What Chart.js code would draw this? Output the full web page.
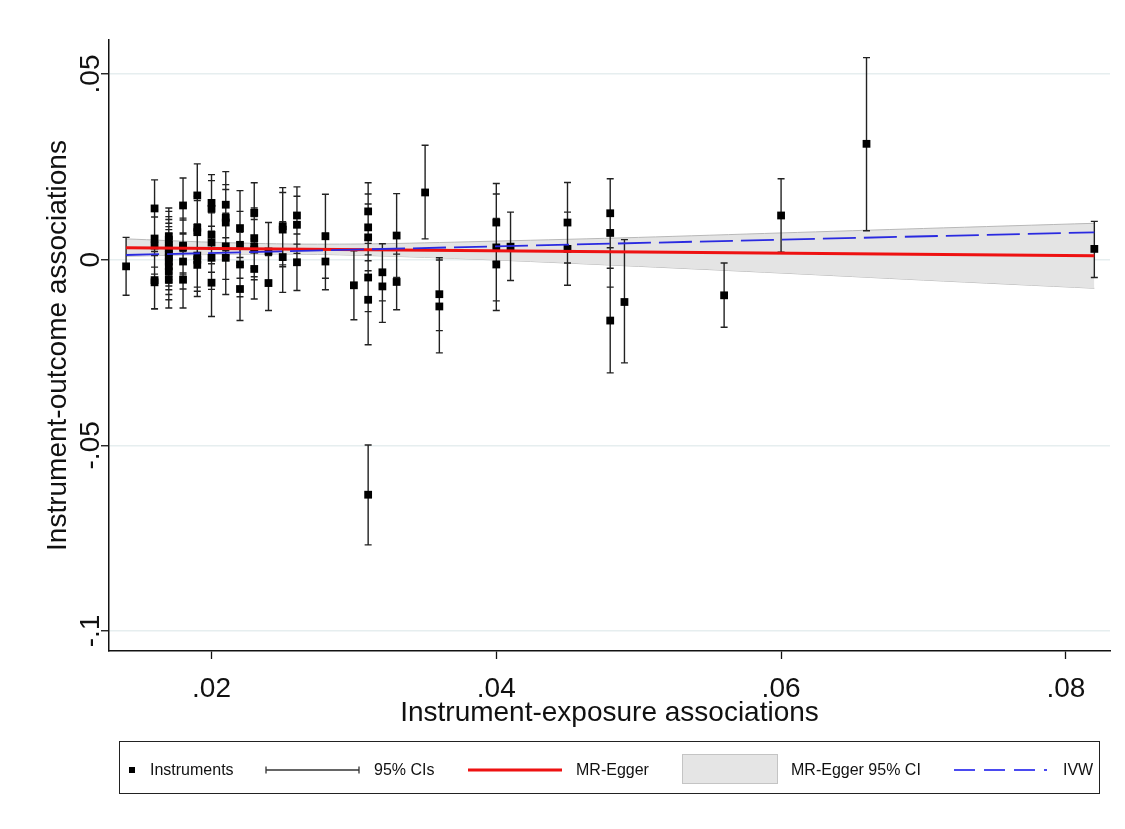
<!DOCTYPE html>
<html>
<head>
<meta charset="utf-8">
<script src="https://cdn.jsdelivr.net/npm/chart.js@4.4.1/dist/chart.umd.min.js"></script>
<style>
  html, body { margin: 0; padding: 0; background: #fff; }
  #wrap { position: relative; width: 1125px; height: 829px; }
  #legendBox { position: absolute; left: 119px; top: 741px; width: 981px; height: 53px; border: 1.5px solid #222; box-sizing: border-box; }
  .lg { position: absolute; top: 760px; height: 20px; line-height: 20px; font-family: "Liberation Sans", Arial, sans-serif; font-size: 16px; color: #111; white-space: nowrap; }
  #legendSvg { position: absolute; left: 0; top: 741px; }
</style>
</head>
<body>
<div id="wrap">
  <canvas id="mrChart" width="1125" height="829"></canvas>
  <div id="legendBox"></div>
  <svg id="legendSvg" width="1125" height="56">
    <rect x="129" y="26" width="6" height="6" fill="#000"></rect>
    <g stroke="#333" stroke-width="1.3">
      <line x1="266" y1="29" x2="359" y2="29"></line>
      <line x1="266" y1="25.5" x2="266" y2="32.5"></line>
      <line x1="359" y1="25.5" x2="359" y2="32.5"></line>
    </g>
    <line x1="468" y1="29" x2="562" y2="29" stroke="#ee1111" stroke-width="3"></line>
    <rect x="682.5" y="13.5" width="95" height="29" fill="#e5e5e5" stroke="#c4c4c4" stroke-width="1"></rect>
    <line x1="954" y1="29" x2="1047" y2="29" stroke="#4a4af0" stroke-width="2" stroke-dasharray="21 9"></line>
  </svg>
  <span class="lg" style="left:150px">Instruments</span>
  <span class="lg" style="left:374px">95% CIs</span>
  <span class="lg" style="left:576px">MR-Egger</span>
  <span class="lg" style="left:791px">MR-Egger 95% CI</span>
  <span class="lg" style="left:1063px">IVW</span>
</div>
<script>
const FONT = '"Liberation Sans", Arial, sans-serif';

// instrument associations
const instrX = [
  0.014,
  0.016, 0.016, 0.016, 0.016, 0.016,
  0.017, 0.017, 0.017, 0.017, 0.017, 0.017, 0.017, 0.017, 0.017, 0.017, 0.017,
  0.018, 0.018, 0.018, 0.018, 0.018,
  0.019, 0.019, 0.019, 0.019, 0.019, 0.019,
  0.020, 0.020, 0.020, 0.020, 0.020, 0.020,
  0.021, 0.021, 0.021, 0.021, 0.021,
  0.022, 0.022, 0.022, 0.022,
  0.023, 0.023, 0.023, 0.023, 0.023,
  0.024, 0.024,
  0.025, 0.025, 0.025,
  0.026, 0.026, 0.026,
  0.028, 0.028,
  0.030,
  0.031, 0.031, 0.031, 0.031, 0.031, 0.031,
  0.032, 0.032,
  0.033, 0.033,
  0.035,
  0.036, 0.036,
  0.040, 0.040, 0.040,
  0.041,
  0.045, 0.045,
  0.048, 0.048, 0.048,
  0.049,
  0.056,
  0.060,
  0.066,
  0.082
];
const instrY = [
  -0.0018,
  0.0138, 0.0057, 0.0038, -0.0055, -0.0061,
  0.0063, 0.0054, 0.0040, 0.0032, 0.0022, 0.0013, 0.0005, -0.0005, -0.0018, -0.0032, -0.0054,
  0.0146, 0.0038, 0.0033, -0.0005, -0.0054,
  0.0173, 0.0086, 0.0074, 0.0011, 0.0000, -0.0014,
  0.0153, 0.0137, 0.0067, 0.0046, 0.0005, -0.0062,
  0.0148, 0.0113, 0.0100, 0.0036, 0.0005,
  0.0085, 0.0040, -0.0013, -0.0079,
  0.0126, 0.0058, 0.0035, 0.0027, -0.0025,
  0.0022, -0.0063,
  0.0090, 0.0081, 0.0007,
  0.0119, 0.0094, -0.0007,
  0.0063, -0.0005,
  -0.0069,
  0.0130, 0.0087, 0.0060, -0.0048, -0.0108, -0.0633,
  -0.0034, -0.0072,
  0.0065, -0.0060,
  0.0181,
  -0.0093, -0.0126,
  0.0100, 0.0033, -0.0013,
  0.0035,
  0.0100, 0.0029,
  0.0125, 0.0072, -0.0164,
  -0.0114,
  -0.0096,
  0.0119,
  0.0312,
  0.0029
];
const ciLow = [
  -0.0096,
  0.0061, -0.0020, -0.0039, -0.0132, -0.0133,
  -0.0013, -0.0022, -0.0036, -0.0044, -0.0054, -0.0063, -0.0071, -0.0081, -0.0094, -0.0108, -0.0130,
  0.0072, -0.0036, -0.0041, -0.0079, -0.0130,
  0.0088, 0.0001, -0.0011, -0.0074, -0.0085, -0.0099,
  0.0077, 0.0061, -0.0011, -0.0034, -0.0080, -0.0153,
  0.0059, 0.0024, 0.0011, -0.0053, -0.0094,
  -0.0016, -0.0050, -0.0100, -0.0164,
  0.0045, -0.0023, -0.0046, -0.0054, -0.0106,
  -0.0056, -0.0137,
  -0.0014, -0.0019, -0.0088,
  0.0042, 0.0017, -0.0083,
  -0.0050, -0.0081,
  -0.0162,
  0.0053, -0.0003, -0.0030, -0.0140, -0.0229, -0.0768,
  -0.0111, -0.0169,
  -0.0048, -0.0135,
  0.0056,
  -0.0191, -0.0251,
  -0.0005, -0.0111, -0.0137,
  -0.0056,
  -0.0009, -0.0069,
  0.0032, -0.0074, -0.0305,
  -0.0278,
  -0.0182,
  0.0020,
  0.0078,
  -0.0048
];
const ciHigh = [
  0.0060,
  0.0215, 0.0134, 0.0115, 0.0022, 0.0011,
  0.0139, 0.0130, 0.0116, 0.0108, 0.0098, 0.0089, 0.0081, 0.0071, 0.0058, 0.0044, 0.0022,
  0.0220, 0.0112, 0.0107, 0.0069, 0.0022,
  0.0258, 0.0171, 0.0159, 0.0096, 0.0085, 0.0071,
  0.0229, 0.0213, 0.0145, 0.0126, 0.0090, 0.0029,
  0.0237, 0.0202, 0.0189, 0.0125, 0.0104,
  0.0186, 0.0130, 0.0074, 0.0006,
  0.0207, 0.0139, 0.0116, 0.0108, 0.0056,
  0.0100, 0.0011,
  0.0194, 0.0181, 0.0102,
  0.0196, 0.0171, 0.0069,
  0.0176, 0.0071,
  0.0024,
  0.0207, 0.0177, 0.0150, 0.0044, 0.0013, -0.0499,
  0.0043, 0.0025,
  0.0178, 0.0015,
  0.0308,
  0.0005, -0.0001,
  0.0205, 0.0177, 0.0111,
  0.0128,
  0.0208, 0.0128,
  0.0218, 0.0218, -0.0023,
  0.0054,
  -0.0009,
  0.0218,
  0.0544,
  0.0103
];

// fitted lines (end points) and MR-Egger confidence band
const lineX = [0.014, 0.082];
const eggerY = [0.00323, 0.00108];
const ivwY = [0.00126, 0.00736];
const bandX = [0.014, 0.020, 0.026, 0.032, 0.040, 0.050, 0.060, 0.070, 0.082];
const bandUpper = [0.0056, 0.0047, 0.0042, 0.0043, 0.0050, 0.0060, 0.0072, 0.0084, 0.0098];
const bandLower = [0.0009, 0.0014, 0.0015, 0.0010, -0.0001, -0.0018, -0.0036, -0.0055, -0.0077];

const xTicks = [0.02, 0.04, 0.06, 0.08];
const xTickLabels = [".02", ".04", ".06", ".08"];
const yTicks = [0.05, 0, -0.05, -0.1];
const yTickLabels = [".05", "0", "-.05", "-.1"];

function pts(xs, ys) {
  return xs.map((x, i) => ({ x: x, y: ys[i] }));
}

// whiskers for each instrument, drawn just before the markers
const ciPlugin = {
  id: "ciBars",
  beforeDatasetDraw(chart, args) {
    if (args.index !== 2) return;
    const ctx = chart.ctx;
    const xs = chart.scales.x, ys = chart.scales.y;
    ctx.save();
    ctx.strokeStyle = "#222";
    ctx.lineWidth = 1.4;
    ctx.beginPath();
    instrX.forEach((v, i) => {
      const px = xs.getPixelForValue(v);
      const lo = ys.getPixelForValue(ciLow[i]);
      const hi = ys.getPixelForValue(ciHigh[i]);
      ctx.moveTo(px, lo); ctx.lineTo(px, hi);
      ctx.moveTo(px - 3.5, lo); ctx.lineTo(px + 3.5, lo);
      ctx.moveTo(px - 3.5, hi); ctx.lineTo(px + 3.5, hi);
    });
    ctx.stroke();
    ctx.restore();
  }
};

// vertical y tick labels, as Stata draws them
const yLabelPlugin = {
  id: "yLabels",
  afterDraw(chart) {
    const ctx = chart.ctx, ys = chart.scales.y;
    ctx.save();
    ctx.font = "28px " + FONT;
    ctx.fillStyle = "#111";
    ctx.textAlign = "center";
    ctx.textBaseline = "alphabetic";
    yTicks.forEach((v, i) => {
      ctx.save();
      ctx.translate(99, ys.getPixelForValue(v));
      ctx.rotate(-Math.PI / 2);
      ctx.fillText(yTickLabels[i], 0, 0);
      ctx.restore();
    });
    ctx.restore();
  }
};

new Chart(document.getElementById("mrChart"), {
  data: {
    datasets: [
      {
        type: "line",
        label: "MR-Egger 95% CI",
        data: pts(bandX, bandUpper),
        borderColor: "#b8b8b8",
        borderWidth: 1,
        backgroundColor: "#e4e4e4",
        fill: "+1",
        pointRadius: 0,
        tension: 0.3,
        order: 4
      },
      {
        type: "line",
        label: "band lower",
        data: pts(bandX, bandLower),
        borderColor: "#b8b8b8",
        borderWidth: 1,
        fill: false,
        pointRadius: 0,
        tension: 0.3,
        order: 4
      },
      {
        type: "scatter",
        label: "Instruments",
        data: pts(instrX, instrY),
        pointStyle: "rect",
        pointRadius: 5.5,
        backgroundColor: "#000",
        borderColor: "#000",
        borderWidth: 0,
        order: 3
      },
      {
        type: "line",
        label: "MR-Egger",
        data: pts(lineX, eggerY),
        borderColor: "#ee1111",
        borderWidth: 3,
        pointRadius: 0,
        fill: false,
        order: 1
      },
      {
        type: "line",
        label: "IVW",
        data: pts(lineX, ivwY),
        borderColor: "#2a2ae0",
        borderWidth: 1.8,
        borderDash: [33, 8],
        pointRadius: 0,
        fill: false,
        order: 0
      }
    ]
  },
  options: {
    responsive: false,
    animation: false,
    layout: { padding: { top: 40, right: 15, bottom: 93, left: 0 } },
    plugins: {
      legend: { display: false },
      tooltip: { enabled: false }
    },
    scales: {
      x: {
        type: "linear",
        min: 0.0128,
        max: 0.0831,
        afterBuildTicks: s => { s.ticks = xTicks.map(v => ({ value: v })); },
        afterFit: s => { s.height = 85; },
        grid: { drawOnChartArea: false, tickLength: 8, tickColor: "#111", tickWidth: 1.3 },
        border: { color: "#111", width: 1.5 },
        ticks: {
          color: "#111",
          font: { family: FONT, size: 28 },
          padding: 13,
          maxRotation: 0,
          callback: (v, i) => xTickLabels[i]
        },
        title: {
          display: true,
          text: "Instrument-exposure associations",
          color: "#111",
          font: { family: FONT, size: 28, lineHeight: 1 },
          padding: { top: 0, bottom: 9 }
        }
      },
      y: {
        type: "linear",
        min: -0.10539,
        max: 0.05916,
        afterBuildTicks: s => { s.ticks = yTicks.map(v => ({ value: v })); },
        afterFit: s => { s.width = 109; },
        grid: { color: "#e6eeef", lineWidth: 1.5, tickLength: 8, tickColor: "#111", tickWidth: 1.3 },
        border: { color: "#111", width: 1.5 },
        ticks: { display: false },
        title: {
          display: true,
          text: "Instrument-outcome associations",
          color: "#111",
          font: { family: FONT, size: 28, lineHeight: 1 },
          padding: { top: 44, bottom: 0 }
        }
      }
    }
  },
  plugins: [ciPlugin, yLabelPlugin]
});
</script>
</body>
</html>
